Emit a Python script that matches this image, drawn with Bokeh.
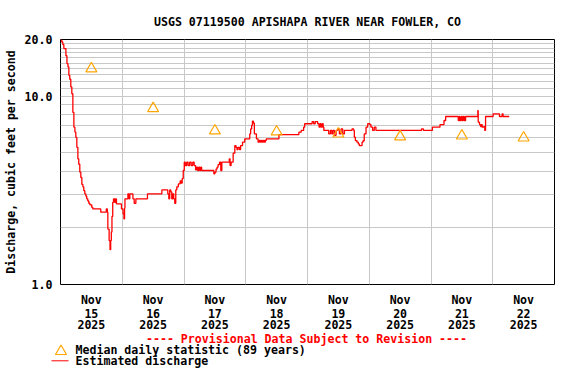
from bokeh.plotting import figure
from bokeh.layouts import column
from bokeh.models import Range1d, FixedTicker, PrintfTickFormatter, Title, LinearAxis
from bokeh.core.properties import value
from bokeh.embed import file_html
from bokeh.resources import INLINE

# ---- data (hours since 2025-11-15 00:00, discharge in ft3/s) ----
hours = [0.0, 0.5, 0.9, 1.3, 2.1, 2.5, 2.9, 3.25, 3.6, 4.0, 4.4, 4.8, 5.2, 5.6, 5.95,
         6.35, 6.75, 7.1, 7.5, 7.9, 8.3, 8.7, 9.05, 9.45, 9.85, 10.2, 10.6, 11.0, 11.4,
         12.15, 12.55, 15.65, 17.8, 18.2, 18.4, 18.9, 19.25, 19.5, 19.75, 20.0, 20.3,
         20.6, 21.05, 21.45, 21.75, 23.7, 24.3, 24.65, 24.9, 25.05, 26.2, 26.6, 26.95,
         28.15, 28.65, 29.3, 33.8, 39.4, 41.7, 42.1, 42.45, 42.85, 43.25, 43.6, 44.0,
         44.4, 44.8, 45.2, 45.8, 46.5, 46.9, 47.3, 47.7, 48.1, 48.5, 49.05, 49.6, 50.2,
         50.8, 51.4, 51.95, 52.5, 52.9, 53.3, 53.7, 54.1, 54.5, 54.85, 59.6, 60.0,
         60.45, 60.85, 61.25, 61.8, 62.3, 62.7, 65.6, 65.9, 66.3, 67.1, 67.75, 68.2,
         68.6, 69.0, 69.6, 70.0, 70.75, 71.6, 73.55, 73.9, 74.3, 74.6, 75.0, 75.35,
         76.15, 76.8, 77.3, 77.7, 78.1, 78.45, 78.85, 79.25, 79.6, 80.0, 84.9, 92.65,
         93.55, 94.5, 94.9, 97.8, 98.4, 99.0, 99.95, 100.5, 100.9, 101.3, 101.8, 102.1,
         102.35, 104.25, 104.9, 105.45, 105.85, 106.45, 107.1, 107.8, 108.4, 109.05,
         109.7, 110.35, 113.3, 113.95, 114.2, 114.6, 115.2, 115.75, 116.15, 117.2,
         117.6, 118.05, 118.75, 119.4, 120.25, 120.65, 121.3, 121.95, 122.6, 140.3,
         141.05, 144.55, 147.5, 149.05, 149.7, 154.6, 155.0, 155.25, 155.75, 156.15,
         156.55, 156.95, 157.45, 162.2, 162.35, 162.85, 163.25, 163.65, 163.9, 164.5,
         164.9, 165.2, 168.15, 170.6, 171.65, 172.0, 174.4]
flow = [19.9, 19.4, 18.8, 17.9, 16.4, 14.9, 14.3, 12.9, 12.3, 11.2, 10.3, 8.2, 6.85, 6.45, 6.05,
        5.35, 4.65, 4.35, 3.95, 3.7, 3.4, 3.3, 3.15, 3.03, 2.95, 2.85, 2.78, 2.7, 2.65,
        2.57, 2.52, 2.42, 2.52, 2.42, 1.97, 1.71, 1.53, 1.71, 1.9, 2.3, 2.73,
        2.85, 2.73, 2.85, 2.68, 2.52, 2.37, 2.23, 2.55, 2.85, 3.03, 2.85, 3.03,
        2.85, 2.7, 2.85, 3.03, 3.18, 3.03, 2.85, 3.18, 3.1, 2.85, 3.03, 2.85,
        2.7, 3.18, 3.3, 3.42, 3.55, 3.45, 3.65, 4.03, 4.46, 4.28, 4.46, 4.28, 4.46,
        4.28, 4.46, 4.28, 4.06, 4.2, 4.03, 4.2, 4.03, 4.2, 4.03, 3.87, 3.95,
        4.1, 4.2, 4.33, 4.46, 4.03, 4.46, 4.65, 4.28, 4.46, 4.98, 5.47, 5.35,
        5.2, 5.35, 5.2, 5.47, 5.7, 5.94, 6.3, 6.7, 7.0, 7.36, 7.2, 6.3,
        5.94, 5.7, 5.82, 5.7, 5.82, 5.7, 5.82, 5.7, 5.82, 5.94, 6.25, 6.44,
        6.58, 6.85, 7.14, 7.33, 7.14, 7.33, 7.14, 6.85, 7.14, 6.85, 7.14, 6.85,
        6.58, 6.3, 6.58, 6.3, 6.58, 6.2, 6.58, 6.7, 6.3, 6.7,
        6.3, 6.58, 6.7, 6.58, 6.06, 5.81, 5.7, 5.58, 5.47, 5.7,
        5.8, 6.3, 6.85, 7.14, 7.07, 6.85, 6.58, 6.85, 6.58, 6.7,
        6.58, 6.85, 7.07, 7.43, 7.8, 7.43, 7.8, 7.43, 7.8, 7.43,
        7.8, 7.43, 7.8, 8.39, 7.28, 7.07, 6.9, 7.07, 6.85, 6.9,
        6.58, 7.8, 8.06, 7.8, 8.06, 7.8, 7.8]

median_hours = [12, 36, 60, 84, 108, 132, 156, 180]
median_flow = [14.0, 8.6, 6.55, 6.47, 6.31, 6.09, 6.16, 6.01]

day_ticks = [12, 36, 60, 84, 108, 132, 156, 180]
month_labels = ["Nov"] * 8
day_labels = ["15", "16", "17", "18", "19", "20", "21", "22"]
year_labels = ["2025"] * 8
midnights = [24, 48, 72, 96, 120, 144, 168]
y_ticks = [1, 10, 20]
y_grid = list(range(2, 21))

title_text = "USGS 07119500 APISHAPA RIVER NEAR FOWLER, CO"
y_label = "Discharge, cubic feet per second"
prov_text = "---- Provisional Data Subject to Revision ----"
median_text = "Median daily statistic (89 years)"
flow_text = "Estimated discharge"

FONT = "DejaVu Sans Mono"
FS = "11.6px"
ORANGE = "#FFA500"
RED = "#FF0000"
W = 560
H_MAIN = 332
H_LEG = 36

title = Title(text=title_text, align="center", text_font=FONT, text_font_size=FS,
              text_font_style="bold", text_color="black", standoff=21)

p = figure(width=W, height=H_MAIN, title=title,
           x_range=Range1d(0, 192), y_range=Range1d(1, 20), y_axis_type="log",
           output_backend="svg", toolbar_location=None,
           min_border_left=58, min_border_right=6, min_border_top=39, min_border_bottom=H_MAIN - 284)
p.outline_line_color = "black"
p.outline_line_width = 1
p.background_fill_color = "white"
p.border_fill_color = "white"
try:
    p.frame_align = False
except Exception:
    pass

# grids
p.xgrid.ticker = FixedTicker(ticks=midnights)
p.ygrid.ticker = FixedTicker(ticks=y_grid)
p.grid.grid_line_color = "#C8C8C8"
p.grid.grid_line_width = 1

# extra x axes for the day-number and year rows
ax_day = LinearAxis()
ax_year = LinearAxis()
p.add_layout(ax_day, "below")
p.add_layout(ax_year, "below")

x_axes = [p.xaxis[0], ax_day, ax_year]
for ax in x_axes + [p.yaxis[0]]:
    ax.axis_line_color = None
    ax.major_tick_line_color = None
    ax.minor_tick_line_color = None
    ax.major_tick_out = 0
    ax.major_tick_in = 0
    ax.minor_tick_out = 0
    ax.minor_tick_in = 0
    ax.major_label_text_font = FONT
    ax.major_label_text_font_size = FS
    ax.major_label_text_font_style = "bold"
    ax.major_label_text_color = "black"

for ax, labels, standoff in zip(x_axes, [month_labels, day_labels, year_labels], [8, -1, -1]):
    ax.ticker = FixedTicker(ticks=day_ticks)
    ax.major_label_overrides = dict(zip(day_ticks, labels))
    ax.major_label_standoff = standoff

yax = p.yaxis[0]
yax.major_label_standoff = 8
yax.ticker = FixedTicker(ticks=y_ticks)
yax.formatter = PrintfTickFormatter(format="%.1f")
yax.axis_label = y_label
yax.axis_label_text_font = FONT
yax.axis_label_text_font_size = FS
yax.axis_label_text_font_style = "bold"
yax.axis_label_text_color = "black"
yax.axis_label_standoff = 4

# data
p.step(hours, flow, mode="after", line_color=RED, line_width=1.3)
p.scatter(median_hours, median_flow, marker="triangle", size=11,
          fill_color=None, line_color=ORANGE, line_width=1.2)

# ---- legend strip below (pixel coordinates, y measured from its top) ----
q = figure(width=W, height=H_LEG, x_range=Range1d(0, W), y_range=Range1d(H_LEG, 0),
           output_backend="svg", toolbar_location=None, min_border=0, title=None)
q.axis.visible = False
q.grid.visible = False
q.outline_line_color = None
q.background_fill_color = "white"
q.border_fill_color = "white"
try:
    q.frame_align = False
except Exception:
    pass

txt = dict(text_font=value(FONT), text_font_size=value(FS), text_font_style="bold",
           text_baseline="alphabetic")
q.text(x=[306], y=[6.5], text=[prov_text], text_color=RED, text_align="center", **txt)
q.text(x=[75], y=[17.5], text=[median_text], text_color="black", text_align="left", **txt)
q.text(x=[75], y=[28], text=[flow_text], text_color="black", text_align="left", **txt)
q.scatter(x=[60.5], y=[18.8], marker="triangle", size=11, fill_color=None,
          line_color=ORANGE, line_width=1.2)
q.line(x=[51, 68], y=[28.3, 28.3], line_color=RED, line_width=1)

layout = column(p, q, spacing=0)
open("out.html", "w").write(file_html(layout, INLINE))
